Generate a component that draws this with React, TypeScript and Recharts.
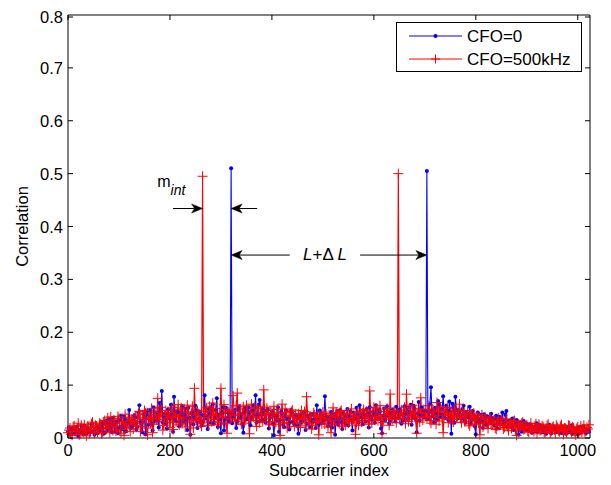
import { LineChart, Line, XAxis, YAxis, Legend, ReferenceLine, ReferenceDot } from 'recharts'

const FONT = '"Liberation Sans", Arial, Helvetica, sans-serif'

const X_TICKS = [0, 200, 400, 600, 800, 1000]
const Y_TICKS = [0, 0.1, 0.2, 0.3, 0.4, 0.5, 0.6, 0.7, 0.8]

// correlation, one value every 2nd subcarrier (0, 2, ... 1022)
const CFO_0 = [
  .012, .020, .006, .014, .018, .008, .009, .016, .021, .011, .004, .013, .015, .023, .011, .007,
  .024, .015, .008, .019, .017, .010, .013, .026, .027, .012, .006, .017, .019, .009, .022, .014,
  .014, .022, .029, .008, .010, .027, .033, .015, .018, .036, .025, .011, .038, .024, .012, .030,
  .031, .009, .020, .034, .042, .023, .016, .040, .035, .013, .027, .029, .053, .021, .019, .032,
  .024, .043, .039, .016, .021, .048, .062, .029, .030, .011, .045, .037, .007, .044, .051, .025,
  .036, .052, .027, .014, .058, .032, .041, .047, .033, .020, .066, .055, .089, .030, .040, .046,
  .028, .018, .054, .041, .037, .063, .046, .012, .078, .035, .031, .050, .049, .022, .025, .044,
  .060, .031, .043, .056, .036, .015, .057, .038, .006, .047, .048, .026, .039, .061, .052, .019,
  .034, .050, .047, .024, .030, .042, .081, .037, .041, .017, .055, .046, .029, .059, .064, .027,
  .038, .053, .075, .021, .044, .036, .009, .048, .058, .014, .035, .057, .049, .039, .032, .045,
  .510, .028, .040, .047, .053, .019, .031, .054, .060, .038, .045, .026, .010, .049, .057, .035,
  .036, .058, .048, .024, .039, .051, .062, .042, .081, .030, .044, .063, .072, .046, .033, .055,
  .046, .035, .029, .052, .055, .018, .038, .044, .050, .027, .005, .040, .043, .033, .058, .012,
  .034, .049, .047, .025, .021, .041, .052, .036, .037, .016, .030, .053, .049, .031, .026, .043,
  .041, .024, .008, .037, .045, .029, .032, .048, .050, .015, .027, .042, .039, .021, .044, .034,
  .030, .045, .036, .019, .062, .038, .025, .052, .047, .028, .033, .041, .079, .035, .040, .022,
  .028, .039, .049, .020, .035, .044, .006, .031, .051, .026, .038, .053, .030, .017, .046, .037,
  .027, .043, .055, .024, .041, .050, .033, .014, .048, .039, .036, .057, .044, .029, .062, .046,
  .039, .026, .052, .044, .031, .055, .047, .020, .058, .040, .035, .049, .043, .029, .062, .045,
  .037, .053, .050, .018, .009, .042, .056, .034, .041, .060, .048, .027, .033, .047, .054, .038,
  .045, .031, .059, .048, .038, .054, .051, .027, .032, .043, .060, .036, .047, .057, .036, .050,
  .063, .025, .042, .061, .055, .037, .011, .046, .068, .033, .044, .058, .052, .041, .039, .049,
  .505, .036, .048, .064, .096, .052, .041, .030, .057, .047, .035, .070, .063, .040, .046, .055,
  .079, .043, .038, .061, .052, .034, .069, .050, .008, .065, .058, .029, .078, .053, .044, .038,
  .050, .042, .037, .055, .061, .033, .029, .048, .046, .039, .059, .027, .034, .051, .043, .022,
  .007, .038, .048, .030, .036, .044, .031, .019, .045, .035, .025, .041, .040, .028, .033, .046,
  .038, .029, .024, .036, .042, .018, .030, .040, .035, .026, .048, .033, .027, .044, .051, .021,
  .032, .027, .022, .035, .037, .015, .028, .031, .034, .023, .006, .029, .030, .012, .025, .032,
  .021, .015, .027, .022, .016, .026, .024, .010, .019, .021, .013, .017, .028, .012, .018, .024,
  .023, .016, .011, .020, .020, .008, .016, .023, .025, .013, .009, .019, .018, .022, .014, .011,
  .017, .013, .010, .018, .022, .009, .013, .021, .008, .014, .019, .011, .015, .020, .024, .008,
  .011, .017, .016, .012, .007, .019, .020, .010, .013, .022, .018, .014, .009, .016, .015, .012,
]

const CFO_500K = [
  .010, .015, .019, .007, .005, .021, .023, .012, .013, .018, .028, .006, .008, .024, .017, .011,
  .025, .014, .004, .022, .020, .009, .012, .027, .030, .016, .009, .024, .022, .011, .016, .028,
  .026, .008, .011, .030, .033, .020, .018, .038, .024, .010, .040, .026, .014, .034, .029, .013,
  .021, .041, .037, .016, .009, .028, .031, .005, .045, .025, .019, .039, .027, .012, .036, .033,
  .017, .031, .042, .023, .028, .045, .050, .012, .022, .038, .035, .052, .047, .019, .006, .036,
  .039, .027, .056, .010, .026, .049, .044, .035, .075, .041, .031, .058, .048, .015, .024, .043,
  .052, .029, .037, .048, .020, .039, .058, .016, .041, .053, .030, .044, .063, .025, .045, .057,
  .027, .040, .055, .021, .036, .062, .049, .030, .007, .046, .060, .019, .094, .038, .033, .051,
  .046, .035, .028, .022, .495, .030, .039, .051, .057, .042, .024, .060, .050, .031, .066, .044,
  .035, .056, .043, .025, .029, .047, .094, .038, .041, .063, .054, .027, .009, .050, .048, .036,
  .037, .052, .080, .043, .031, .061, .085, .034, .044, .055, .026, .047, .059, .028, .038, .062,
  .051, .036, .008, .049, .064, .041, .040, .058, .033, .022, .056, .045, .029, .060, .047, .031,
  .091, .044, .036, .057, .052, .031, .025, .048, .045, .039, .060, .026, .030, .054, .042, .035,
  .005, .046, .064, .029, .034, .055, .048, .019, .027, .043, .040, .050, .053, .033, .022, .045,
  .038, .029, .046, .037, .020, .052, .035, .041, .050, .023, .078, .045, .028, .034, .041, .017,
  .024, .048, .044, .030, .032, .040, .006, .043, .039, .027, .049, .035, .026, .046, .036, .021,
  .043, .034, .010, .041, .057, .025, .033, .048, .045, .039, .027, .050, .052, .022, .038, .044,
  .024, .037, .047, .028, .031, .046, .055, .033, .036, .042, .007, .030, .049, .024, .040, .051,
  .030, .047, .054, .033, .037, .051, .045, .026, .089, .040, .028, .049, .058, .035, .041, .055,
  .033, .044, .061, .037, .008, .029, .050, .043, .039, .056, .046, .024, .083, .038, .035, .049,
  .052, .040, .029, .045, .500, .036, .044, .053, .037, .048, .058, .027, .083, .042, .031, .057,
  .049, .035, .062, .044, .040, .051, .009, .039, .055, .030, .076, .046, .034, .054, .047, .041,
  .039, .046, .061, .033, .028, .055, .050, .041, .043, .026, .067, .049, .032, .058, .054, .037,
  .010, .043, .048, .051, .058, .029, .036, .047, .044, .035, .030, .056, .052, .038, .041, .045,
  .064, .037, .029, .050, .046, .031, .038, .043, .052, .027, .023, .045, .041, .034, .047, .025,
  .033, .042, .039, .028, .006, .037, .044, .021, .030, .039, .036, .026, .018, .033, .040, .029,
  .027, .032, .034, .019, .016, .029, .038, .024, .025, .035, .031, .017, .020, .030, .036, .022,
  .014, .027, .029, .018, .024, .031, .033, .015, .005, .025, .026, .020, .021, .028, .030, .016,
  .017, .022, .025, .013, .011, .020, .028, .016, .019, .012, .023, .027, .008, .019, .026, .014,
  .015, .023, .021, .011, .010, .018, .024, .026, .017, .009, .013, .020, .022, .015, .009, .024,
  .020, .014, .012, .022, .025, .016, .007, .019, .018, .010, .014, .024, .023, .015, .010, .021,
  .019, .012, .006, .018, .021, .009, .015, .023, .011, .016, .024, .011, .013, .020, .017, .025,
]

const NAMES = ['CFO=0', 'CFO=500kHz']
const BLUE = '#0000ff'
const RED = '#ff0000'

// arrows of the annotation, in data units
const ARROWS = [
  { from: { x: 206, y: 0.434 }, to: { x: 264, y: 0.434 } },
  { from: { x: 371, y: 0.434 }, to: { x: 320, y: 0.434 } },
  { from: { x: 435, y: 0.346 }, to: { x: 320, y: 0.346 } },
  { from: { x: 573, y: 0.346 }, to: { x: 704, y: 0.346 } },
]

const data = CFO_0.map((v, i) => ({ sub: i * 2, cfo0: v, cfo500: CFO_500K[i] }))

const W = 595
const H = 470
const MARGIN = { top: 7, right: 13, left: 0, bottom: 0 }
const Y_W = 60
const X_H = 40
const PLOT_W = W - MARGIN.left - MARGIN.right - Y_W
const PLOT_H = H - MARGIN.top - MARGIN.bottom - X_H

function BlueDot(props: any) {
  const { cx, cy } = props
  if (cx == null || cy == null) return <g />
  return <circle cx={cx} cy={cy} r={2} fill={BLUE} />
}

function RedPlus(props: any) {
  const { cx, cy } = props
  if (cx == null || cy == null) return <g />
  return <path d={`M${cx - 5},${cy}H${cx + 5}M${cx},${cy - 5}V${cy + 5}`} stroke={RED} strokeWidth={1} fill="none" />
}

// ticks point inwards, on the bottom and (mirrored) on the top
function XTick(props: any) {
  const { x, y, payload } = props
  return (
    <g>
      <line x1={x} x2={x} y1={y} y2={y - 5} stroke="#000" />
      <line x1={x} x2={x} y1={y - PLOT_H} y2={y - PLOT_H + 5} stroke="#000" />
      <text x={x} y={y + 18} textAnchor="middle" fontSize={16.5} fontFamily={FONT} fill="#000">{payload.value}</text>
    </g>
  )
}

function YTick(props: any) {
  const { x, y, payload } = props
  return (
    <g>
      <line x1={x} x2={x + 5} y1={y} y2={y} stroke="#000" />
      <line x1={x + PLOT_W} x2={x + PLOT_W - 5} y1={y} y2={y} stroke="#000" />
      <text x={x - 5} y={y + 6} textAnchor="end" fontSize={16.5} fontFamily={FONT} fill="#000">{payload.value}</text>
    </g>
  )
}

function Arrow(props: any) {
  const { x1, y1, x2, y2 } = props
  const a = Math.atan2(y2 - y1, x2 - x1)
  const c = Math.cos(a)
  const s = Math.sin(a)
  const len = 11
  const half = 4.5
  const notch = 8
  const bx = x2 - len * c
  const by = y2 - len * s
  const nx = x2 - notch * c
  const ny = y2 - notch * s
  const head = `M${x2},${y2}L${bx - half * s},${by + half * c}L${nx},${ny}L${bx + half * s},${by - half * c}Z`
  return (
    <g>
      <line x1={x1} y1={y1} x2={nx} y2={ny} stroke="#000" strokeWidth={1} />
      <path d={head} fill="#000" stroke="#000" strokeWidth={0.5} />
    </g>
  )
}

function MintLabel(props: any) {
  const { cx, cy } = props
  return (
    <text x={cx} y={cy} fontFamily={FONT} fontSize={16} fill="#000">
      m<tspan dy={8} fontSize={14} fontStyle="italic">int</tspan>
    </text>
  )
}

function LdLLabel(props: any) {
  const { cx, cy } = props
  return (
    <text x={cx} y={cy} fontFamily={FONT} fontSize={17} fill="#000">
      <tspan fontStyle="italic">L</tspan>+Δ <tspan fontStyle="italic">L</tspan>
    </text>
  )
}

function LegendBox() {
  return (
    <svg width={186} height={50} style={{ display: 'block' }}>
      <rect x={0.5} y={0.5} width={185} height={49} fill="#fff" stroke="#000" />
      <line x1={13} x2={66} y1={14} y2={14} stroke={BLUE} />
      <circle cx={39.5} cy={14} r={2} fill={BLUE} />
      <text x={71} y={20} fontFamily={FONT} fontSize={17} fill="#000">{NAMES[0]}</text>
      <line x1={13} x2={66} y1={37} y2={37} stroke={RED} />
      <path d="M35,37H44M39.5,32.5V41.5" stroke={RED} fill="none" />
      <text x={71} y={43} fontFamily={FONT} fontSize={17} fill="#000">{NAMES[1]}</text>
    </svg>
  )
}

export default function App() {
  return (
    <LineChart width={W} height={H} data={data} margin={MARGIN}>
      <XAxis
        dataKey="sub"
        type="number"
        domain={[0, 1024]}
        ticks={X_TICKS}
        height={X_H}
        tickLine={false}
        tickSize={0}
        tickMargin={0}
        tick={XTick}
        axisLine={{ stroke: '#000' }}
        label={{ value: 'Subcarrier index', position: 'insideBottom', offset: 2, fill: '#000', fontSize: 16.5, fontFamily: FONT }}
      />
      <YAxis
        type="number"
        domain={[0, 0.8]}
        ticks={Y_TICKS}
        width={Y_W}
        tickLine={false}
        tickSize={0}
        tickMargin={0}
        tick={YTick}
        axisLine={{ stroke: '#000' }}
        label={{ value: 'Correlation', angle: -90, position: 'center', dx: -16, fill: '#000', fontSize: 16.5, fontFamily: FONT }}
      />
      <ReferenceLine y={0.8} stroke="#000" />
      <ReferenceLine x={1024} stroke="#000" />
      <Line
        name={NAMES[0]}
        dataKey="cfo0"
        type="linear"
        stroke={BLUE}
        strokeWidth={1.1}
        dot={BlueDot}
        activeDot={false}
        isAnimationActive={false}
      />
      <Line
        name={NAMES[1]}
        dataKey="cfo500"
        type="linear"
        stroke={RED}
        strokeWidth={1.2}
        dot={RedPlus}
        activeDot={false}
        isAnimationActive={false}
      />
      {ARROWS.map((a, i) => (
        <ReferenceLine key={i} segment={[a.from, a.to]} shape={Arrow} />
      ))}
      <ReferenceDot x={175} y={0.475} shape={MintLabel} />
      <ReferenceDot x={461} y={0.337} shape={LdLLabel} />
      <Legend
        layout="horizontal"
        verticalAlign="middle"
        align="center"
        wrapperStyle={{ position: 'absolute', left: 388, top: 14, width: 186, height: 50 }}
        content={LegendBox}
      />
    </LineChart>
  )
}
